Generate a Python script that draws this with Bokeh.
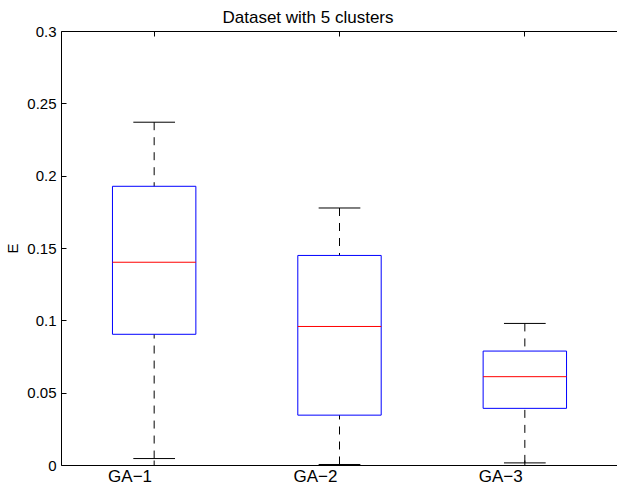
import math
from bokeh.plotting import figure
from bokeh.models import Range1d, FixedTicker, LinearAxis, Title
from bokeh.embed import file_html
from bokeh.resources import INLINE

# ---- data ----
categories = ["GA\u22121", "GA\u22122", "GA\u22123"]
whisker_high = [0.2373, 0.1780, 0.0982]
quart3 = [0.1930, 0.1452, 0.0791]
medians = [0.1405, 0.0961, 0.0614]
quart1 = [0.0907, 0.0348, 0.0395]
whisker_low = [0.0048, 0.0007, 0.0018]
y_ticks = [0, 0.05, 0.1, 0.15, 0.2, 0.25, 0.3]
y_tick_labels = ["0", "0.05", "0.1", "0.15", "0.2", "0.25", "0.3"]

positions = [i + 1 for i in range(len(categories))]
BOX_HALF = 0.225
CAP_HALF = 0.1125
LABEL_SHIFT = 0.13    # labels sit right-aligned just left of their tick
FONT = "Liberation Sans"

p = figure(width=617, height=488, x_range=Range1d(0.5, 3.5), y_range=Range1d(0, 0.3),
           output_backend="svg", toolbar_location=None,
           min_border_left=61, min_border_right=0, min_border_top=27, min_border_bottom=21)
p.outline_line_color = None
p.grid.visible = False
p.background_fill_color = "white"
p.border_fill_color = "white"

# whiskers (dashed), from caps toward boxes
p.segment(x0=positions, x1=positions, y0=whisker_high, y1=quart3,
          line_color="black", line_width=1, line_dash="8 7")
p.segment(x0=positions, x1=positions, y0=whisker_low, y1=quart1,
          line_color="black", line_width=1, line_dash="8 7")
# caps
p.segment(x0=[x - CAP_HALF for x in positions], x1=[x + CAP_HALF for x in positions],
          y0=whisker_high, y1=whisker_high, line_color="black", line_width=1)
p.segment(x0=[x - CAP_HALF for x in positions], x1=[x + CAP_HALF for x in positions],
          y0=whisker_low, y1=whisker_low, line_color="black", line_width=1)
# boxes
p.quad(left=[x - BOX_HALF for x in positions], right=[x + BOX_HALF for x in positions],
       top=quart3, bottom=quart1, fill_color=None, line_color="#0000ff", line_width=1)
# medians
p.segment(x0=[x - BOX_HALF for x in positions], x1=[x + BOX_HALF for x in positions],
          y0=medians, y1=medians, line_color="#ff0000", line_width=1)
# inward tick marks of the bottom axis at the group positions
p.ray(x=positions, y=[0] * len(positions), length=5, length_units="screen",
      angle=math.pi / 2, line_color="black", line_width=1)

def style_axis(ax, size="15px"):
    ax.axis_line_color = "black"
    ax.major_tick_line_color = "black"
    ax.minor_tick_line_color = None
    ax.major_tick_in = 5
    ax.major_tick_out = 0
    ax.major_label_text_color = "black"
    ax.major_label_text_font = FONT
    ax.major_label_text_font_size = size
    ax.axis_label_text_color = "black"
    ax.axis_label_text_font = FONT
    ax.axis_label_text_font_size = "15px"
    ax.axis_label_text_font_style = "normal"

xa = p.xaxis[0]
style_axis(xa, "17px")
label_ticks = [x - LABEL_SHIFT for x in positions]
xa.ticker = FixedTicker(ticks=label_ticks)
xa.major_label_overrides = {t: lab for t, lab in zip(label_ticks, categories)}
xa.major_tick_in = 0
xa.major_label_standoff = 1

ya = p.yaxis[0]
style_axis(ya)
ya.ticker = FixedTicker(ticks=y_ticks)
ya.major_label_overrides = {t: l for t, l in zip(y_ticks, y_tick_labels)}
ya.major_label_standoff = 5
ya.axis_label = "E"
ya.axis_label_standoff = 3

top = LinearAxis(ticker=FixedTicker(ticks=positions))
style_axis(top)
top.major_label_overrides = {pos: "" for pos in positions}
top.major_label_standoff = 0
p.add_layout(top, "above")

p.title = Title(text="Dataset with 5 clusters", align="left", offset=161,
                text_font=FONT, text_font_size="17px", text_font_style="normal",
                text_color="black")

open("out.html", "w").write(file_html(p, INLINE))
